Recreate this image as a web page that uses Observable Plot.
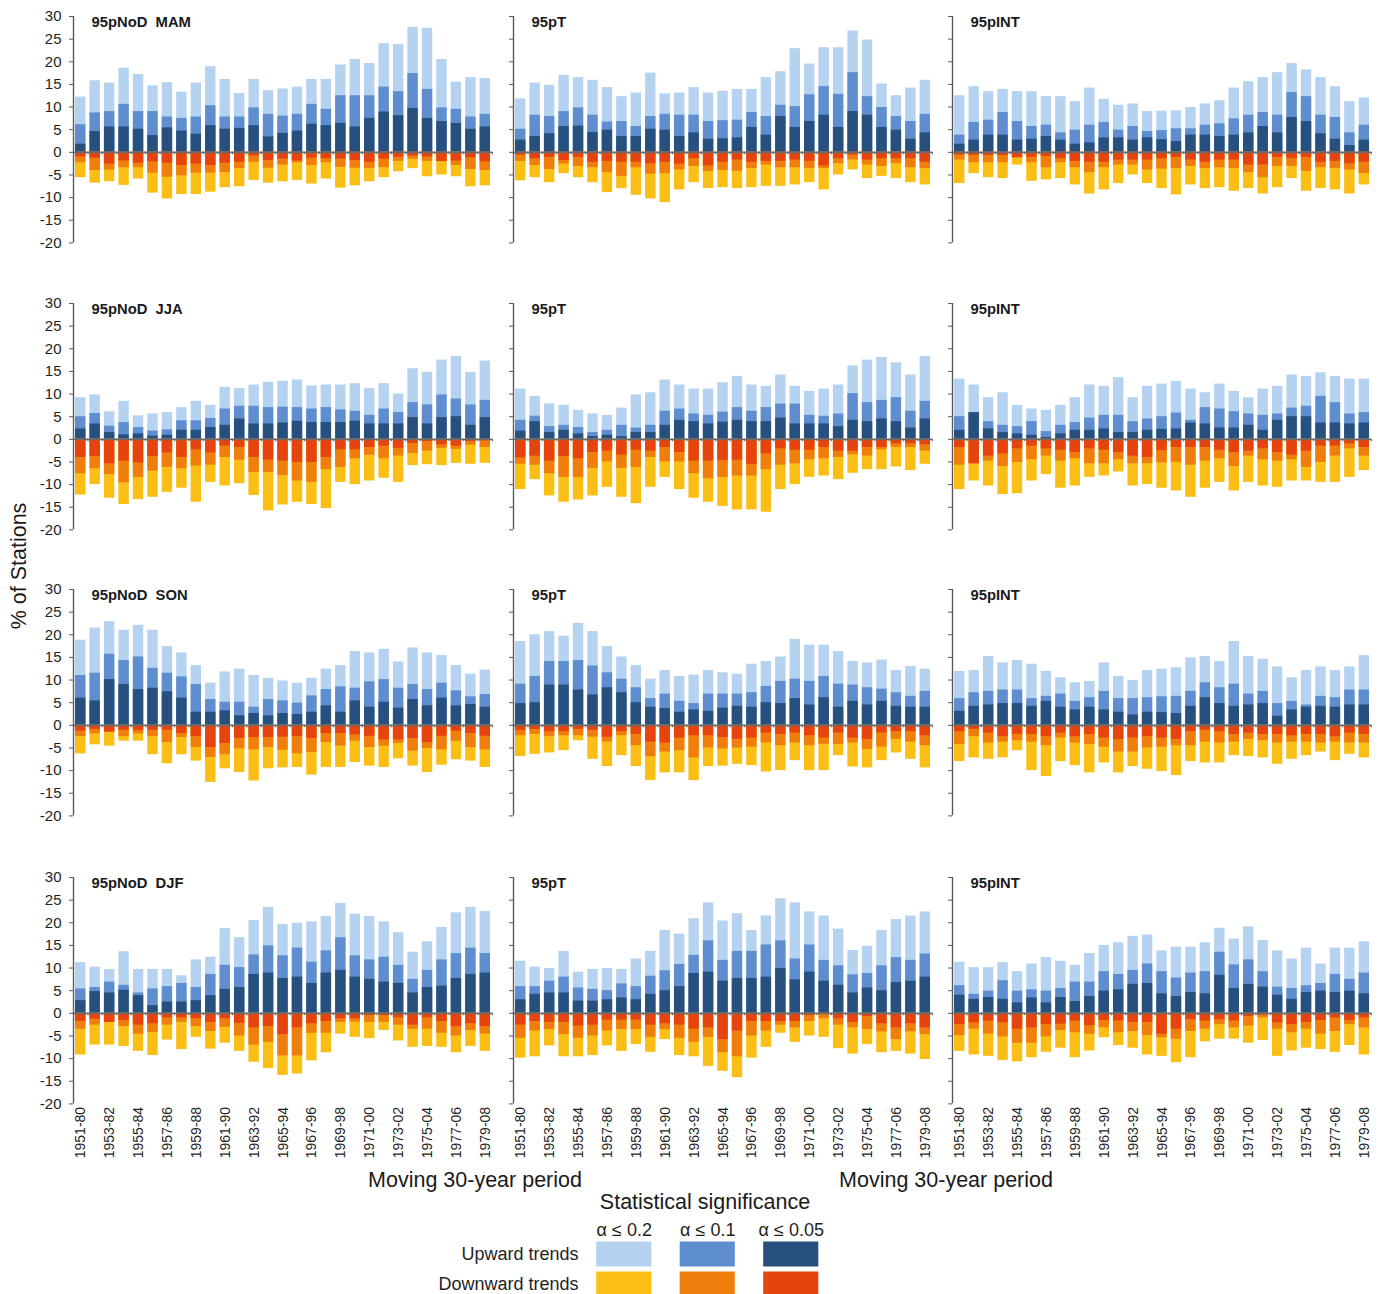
<!DOCTYPE html>
<html>
<head>
<meta charset="utf-8">
<script src="https://cdn.jsdelivr.net/npm/d3@7"></script>
<script src="https://cdn.jsdelivr.net/npm/@observablehq/plot@0.6"></script>
<style>
html, body { margin: 0; padding: 0; background: #fff; }
#root { position: relative; width: 1382px; height: 1294px; overflow: hidden; font-family: "Liberation Sans", Arial, sans-serif; background: #fff; }
#root svg { position: absolute; }
#root svg text { white-space: pre; }
.lbl { position: absolute; white-space: nowrap; color: #1a1a1a; font-size: 21.5px; line-height: 22px; }
</style>
</head>
<body>
<div id="root"></div>
<script>
// ---------- categories & labels ----------
const periods = ["1951-80","1952-81","1953-82","1954-83","1955-84","1956-85","1957-86","1958-87","1959-88","1960-89",
  "1961-90","1962-91","1963-92","1964-93","1965-94","1966-95","1967-96","1968-97","1969-98","1970-99",
  "1971-00","1972-01","1973-02","1974-03","1975-04","1976-05","1977-06","1978-07","1979-08"];
const tickPeriods = ["1951-80","1953-82","1955-84","1957-86","1959-88","1961-90","1963-92","1965-94",
  "1967-96","1969-98","1971-00","1973-02","1975-04","1977-06","1979-08"];
const yTicks = [30, 25, 20, 15, 10, 5, 0, -5, -10, -15, -20];
const sigLevels = ["α ≤ 0.2", "α ≤ 0.1", "α ≤ 0.05"];
const trendRows = ["Upward trends", "Downward trends"];
const upColors = ["#b5d3f0", "#5e8ecf", "#28507f"];
const downColors = ["#fbbe14", "#f07e0c", "#e6430f"];
const panelTitles = [
  ["95pNoD  MAM", "95pT", "95pINT"],
  ["95pNoD  JJA", "95pT", "95pINT"],
  ["95pNoD  SON", "95pT", "95pINT"],
  ["95pNoD  DJF", "95pT", "95pINT"]
];

// ---------- % of stations; up = upward trends, dn = downward trends (plotted below 0) ----------
// 20 = alpha<=0.2, 10 = alpha<=0.1, 05 = alpha<=0.05 (cumulative)
// MAM
const mamNoD_up20 = [12.2,15.8,15.3,18.6,17.2,14.7,15.4,13.3,15.3,18.9,16.1,13.0,16.1,13.6,14.0,14.4,16.1,16.1,19.3,20.5,19.6,24.0,23.8,27.6,27.4,20.5,15.5,16.5,16.3];
const mamNoD_up10 = [6.1,8.7,9.0,10.6,9.0,9.0,7.8,7.5,7.8,10.3,7.8,7.8,9.8,8.4,8.0,8.4,10.6,9.5,12.5,12.5,12.5,14.4,13.4,17.4,13.9,9.8,9.5,7.8,8.4];
const mamNoD_up05 = [1.8,4.6,5.6,5.6,5.1,3.7,5.4,4.7,4.0,5.9,5.1,5.3,5.9,3.4,4.2,4.7,6.2,5.9,6.4,5.6,7.5,8.9,8.1,9.7,7.5,6.8,6.4,5.1,5.6];
const mamNoD_dn20 = [5.6,6.8,6.5,7.3,5.9,9.0,10.3,9.3,9.3,8.8,7.8,7.6,6.2,6.8,6.5,6.2,7.0,5.9,7.9,7.4,6.5,5.6,4.3,3.6,5.4,5.0,5.4,7.6,7.4];
const mamNoD_dn10 = [2.3,4.0,3.9,3.4,3.4,4.6,5.5,5.2,4.6,4.6,4.5,3.6,2.2,3.5,2.8,2.3,2.9,2.3,3.3,3.5,3.6,3.4,2.0,1.5,2.0,2.1,2.9,3.8,4.0];
const mamNoD_dn05 = [1.0,1.3,2.6,1.9,2.4,2.1,2.4,2.9,2.6,2.9,2.4,2.2,0.8,1.8,1.5,1.9,1.3,1.4,1.5,1.8,2.2,1.5,1.1,0.8,1.0,2.0,1.9,1.2,2.1];

const mamT_up20 = [11.8,15.3,14.8,17.0,16.5,15.9,14.3,12.3,13.1,17.5,12.9,13.1,14.3,13.1,13.5,13.9,13.9,16.5,17.8,22.9,19.5,23.1,23.1,26.8,24.8,15.1,12.5,14.2,15.9];
const mamT_up10 = [5.1,8.2,7.9,9.0,9.8,8.2,6.7,6.8,5.7,7.9,8.4,8.2,8.2,6.8,7.0,7.1,8.8,7.9,10.4,10.1,12.7,14.5,12.8,17.6,12.3,9.9,7.9,6.8,8.4];
const mamT_up05 = [2.7,3.5,4.1,5.7,5.8,4.4,4.9,3.5,3.5,5.1,4.9,3.5,4.3,2.9,3.0,3.2,5.5,3.8,7.9,5.5,6.8,8.2,5.5,9.0,8.2,5.5,4.9,2.9,4.3];
const mamT_dn20 = [6.3,5.6,6.7,4.7,5.6,6.7,8.9,8.0,9.5,10.3,11.1,8.3,6.7,8.0,7.8,8.0,7.8,7.5,7.5,7.2,6.7,8.3,5.0,3.9,5.8,5.3,5.8,6.7,7.2];
const mamT_dn10 = [2.0,2.9,3.8,2.6,3.1,3.4,4.5,5.3,3.4,4.8,4.7,3.9,3.1,4.2,4.0,4.2,3.6,2.8,3.4,3.4,3.6,3.6,2.5,1.7,2.8,3.1,2.5,3.4,3.6];
const mamT_dn05 = [0.6,1.4,1.1,1.8,1.1,2.2,2.0,2.2,2.2,2.5,2.2,2.6,1.4,3.0,2.2,1.7,2.2,2.0,2.0,1.7,2.0,3.0,1.4,0.6,1.7,1.4,1.4,1.4,2.2];

const mamINT_up20 = [12.5,14.5,13.4,13.9,13.4,13.4,12.3,12.3,11.2,14.2,11.7,10.4,10.7,9.0,9.1,9.2,9.9,10.7,11.4,14.2,15.6,16.5,17.6,19.6,18.2,16.5,14.5,11.2,12.0];
const mamINT_up10 = [3.8,6.6,7.1,8.8,6.8,5.7,6.0,4.3,4.9,6.0,6.6,4.9,5.7,4.6,4.8,5.2,5.2,6.0,6.3,7.4,8.2,8.8,8.2,13.2,12.3,8.2,7.7,4.3,6.0];
const mamINT_up05 = [1.8,2.7,3.8,3.8,2.7,2.9,3.5,2.7,1.8,2.1,3.2,3.2,2.7,3.2,2.8,2.4,3.8,3.8,3.5,3.8,4.3,5.7,4.3,7.7,6.8,4.1,2.9,1.5,2.7];
const mamINT_dn20 = [6.9,4.7,5.6,5.8,2.8,6.4,6.1,5.8,7.2,9.2,8.3,6.9,5.0,6.9,8.0,9.4,7.2,8.0,7.8,8.6,8.0,9.2,7.8,5.8,8.6,8.0,8.3,9.2,7.2];
const mamINT_dn10 = [1.7,2.3,2.3,2.3,1.2,2.3,3.4,2.3,3.4,4.5,3.4,2.8,2.8,3.9,3.7,3.6,3.1,3.6,3.4,3.6,4.5,5.6,3.1,3.1,4.2,3.4,3.6,3.9,4.7];
const mamINT_dn05 = [0.6,0.7,0.7,0.7,1.2,1.1,0.9,1.4,2.0,2.2,2.2,1.7,1.7,1.7,1.4,1.1,1.7,2.2,1.7,1.7,2.8,2.8,1.1,1.4,1.1,2.2,2.0,2.5,2.2];

// JJA
const jjaNoD_up20 = [9.2,9.8,6.1,8.4,5.2,5.6,5.9,7.0,8.4,7.5,11.5,11.2,12.0,12.6,12.8,13.1,11.8,12.0,12.0,12.3,11.2,12.3,10.0,15.6,14.8,17.5,18.3,14.8,17.3];
const jjaNoD_up10 = [5.0,5.7,2.9,3.7,2.6,1.8,2.1,4.1,4.1,4.6,6.7,7.3,7.3,7.0,7.1,7.0,6.7,7.0,6.5,6.2,5.3,6.7,5.9,8.1,7.6,9.8,8.9,7.6,8.6];
const jjaNoD_up05 = [2.3,3.4,1.5,1.0,1.2,0.7,0.9,2.0,2.0,2.6,3.1,4.5,3.4,3.4,3.6,4.0,3.7,3.7,3.7,4.0,3.4,3.4,3.4,4.8,3.4,4.8,5.0,3.1,4.8];
const jjaNoD_dn20 = [12.3,10.0,13.0,14.4,13.3,12.8,11.7,10.8,13.9,9.5,10.3,9.8,12.4,15.8,14.5,13.9,14.4,15.3,9.5,10.0,9.2,8.6,9.5,5.8,5.6,5.8,5.3,5.5,5.3];
const jjaNoD_dn10 = [7.6,6.5,7.8,9.6,8.4,7.0,6.2,6.5,5.9,5.7,4.0,4.6,7.3,7.3,8.0,9.2,9.5,6.7,6.2,4.3,3.5,4.3,3.7,3.1,2.6,2.0,2.2,1.3,1.8];
const jjaNoD_dn05 = [4.0,3.8,5.4,4.8,5.2,3.8,3.0,4.0,2.3,3.0,1.5,1.8,4.0,4.6,4.8,5.1,5.1,4.0,2.3,2.3,1.8,1.5,2.0,0.9,0.5,1.2,1.5,0.5,0.3];

const jjaT_up20 = [11.1,9.5,7.8,7.5,6.4,5.6,5.3,6.9,9.8,10.3,13.1,12.0,11.1,11.1,12.5,13.9,12.0,11.7,14.2,11.7,10.6,11.1,12.0,16.2,17.5,18.1,16.9,14.2,18.3];
const jjaT_up10 = [4.2,5.1,2.8,3.1,2.6,1.5,2.0,3.1,2.5,3.1,6.2,6.7,5.6,5.3,6.0,7.0,6.2,7.0,7.8,7.8,5.3,5.1,5.6,10.1,8.1,8.6,9.2,6.2,8.4];
const jjaT_up05 = [1.8,3.9,1.5,2.0,1.2,0.6,0.9,0.6,1.5,1.5,3.1,4.2,3.9,3.4,3.8,4.2,3.9,3.9,4.7,3.4,3.4,3.4,2.8,4.2,3.9,4.5,3.9,2.5,4.5];
const jjaT_dn20 = [11.1,8.9,12.5,13.9,13.4,12.5,10.6,12.8,14.2,10.6,8.4,11.1,13.0,13.9,14.8,15.6,15.6,16.1,11.1,10.0,8.4,8.1,8.9,7.5,6.7,6.7,6.1,6.9,5.5];
const jjaT_dn10 = [5.5,5.7,7.6,8.4,8.4,6.4,5.0,6.4,6.2,4.0,5.0,5.0,7.6,8.7,8.4,8.1,8.1,6.7,5.7,5.4,4.5,4.3,4.0,3.4,3.7,2.3,1.8,1.8,2.6];
const jjaT_dn05 = [4.1,3.7,4.8,3.8,4.3,2.9,2.6,3.5,2.4,2.6,1.8,2.9,4.8,4.8,4.7,4.6,5.5,3.2,2.1,2.4,2.4,1.8,2.6,2.6,1.8,1.8,1.0,1.0,1.2];

const jjaINT_up20 = [13.3,12.0,9.2,10.3,7.5,6.7,6.4,7.5,9.2,12.0,11.7,13.6,9.2,11.7,12.2,12.8,11.1,10.3,12.2,10.6,9.2,11.1,11.7,14.2,13.9,14.7,13.9,13.3,13.3];
const jjaINT_up10 = [5.0,5.9,3.9,3.1,2.8,3.9,1.7,3.1,3.7,4.7,5.3,5.3,3.9,4.5,5.0,5.8,4.2,7.0,6.7,6.1,5.6,5.3,5.6,6.9,7.3,9.5,8.1,5.6,5.9];
const jjaINT_up05 = [2.0,5.9,2.3,1.5,1.2,0.9,0.4,1.2,2.0,2.0,2.3,1.5,1.5,2.0,2.2,2.3,3.6,3.4,2.5,2.5,3.1,2.0,4.2,5.0,5.0,3.6,3.6,3.4,3.6];
const jjaINT_dn20 = [11.1,9.2,10.3,12.2,12.0,9.2,7.8,10.8,10.3,8.4,8.1,7.2,10.3,10.0,10.8,11.4,12.8,10.8,9.5,11.4,9.5,10.3,10.6,9.2,9.2,9.5,9.5,8.4,6.9];
const jjaINT_dn10 = [5.7,5.4,4.8,6.0,5.1,4.5,3.7,4.8,4.3,5.4,5.4,4.5,5.4,5.4,5.2,5.1,5.7,4.8,4.3,6.0,3.7,4.5,4.8,4.5,6.2,5.1,3.7,2.1,3.7];
const jjaINT_dn05 = [1.8,5.4,3.7,3.2,2.1,1.5,2.1,2.4,2.9,2.1,2.4,2.9,3.7,4.0,2.5,1.8,1.8,1.8,2.4,2.9,2.6,2.1,2.9,3.5,2.6,1.5,1.5,1.0,1.8];

// SON
const sonNoD_up20 = [18.8,21.5,22.9,21.0,22.1,21.0,17.4,16.0,13.2,9.3,11.8,12.4,11.0,10.4,9.8,9.3,10.4,12.4,13.2,16.3,16.0,16.8,14.0,17.1,16.0,15.4,13.2,11.3,12.2];
const sonNoD_up10 = [11.0,11.5,15.7,14.3,15.1,12.6,11.5,10.7,9.0,5.7,5.1,5.1,4.0,5.7,5.4,4.9,6.5,7.9,8.5,8.2,9.6,10.1,8.2,9.0,7.9,9.3,7.6,6.3,6.8];
const sonNoD_up05 = [6.0,5.4,10.1,9.0,7.9,8.2,7.4,6.0,2.9,2.9,3.2,2.1,2.6,2.1,2.6,2.4,2.9,4.3,2.9,5.4,4.0,5.1,3.8,5.7,4.3,6.0,4.3,4.6,4.0];
const sonNoD_dn20 = [6.3,4.3,4.6,3.5,3.5,6.5,8.5,6.5,7.9,12.6,9.6,10.4,12.3,9.6,9.4,9.3,11.0,9.3,9.3,8.2,9.0,9.3,7.4,9.0,10.4,8.8,7.6,7.9,9.3];
const sonNoD_dn10 = [2.5,1.9,1.5,2.5,1.9,2.5,3.8,2.7,4.9,7.1,6.5,5.2,5.4,4.9,5.5,6.3,6.0,3.8,4.6,3.5,4.9,4.6,4.0,5.7,5.1,5.4,3.5,4.9,5.4];
const sonNoD_dn05 = [1.3,0.9,1.5,1.1,1.1,1.1,1.1,1.8,2.5,4.9,4.0,2.9,2.7,2.7,2.6,2.5,2.9,1.8,1.8,2.1,2.4,3.2,3.2,2.9,3.8,2.4,1.3,1.8,2.4];

const sonT_up20 = [18.5,20.0,20.7,19.7,22.5,20.7,17.4,15.1,13.2,10.2,12.1,10.8,11.1,12.1,11.6,11.3,13.5,14.1,15.1,19.0,17.7,17.7,16.3,14.1,13.8,14.4,12.1,13.0,12.4];
const sonT_up10 = [9.1,10.8,14.1,14.1,14.3,13.1,11.6,10.2,8.3,5.9,6.9,5.3,4.8,6.9,6.9,6.9,7.2,8.6,9.7,10.2,9.7,10.8,9.1,8.9,8.3,8.0,7.2,6.4,7.5];
const sonT_up05 = [4.8,5.0,8.9,8.9,7.8,6.7,8.3,7.2,5.0,4.0,3.7,2.9,3.4,3.1,3.8,4.2,4.0,5.0,4.8,5.9,4.5,6.1,4.0,5.3,4.5,5.3,4.2,4.0,4.0];
const sonT_dn20 = [6.9,6.4,6.1,5.6,3.4,7.5,9.1,6.7,9.1,12.2,10.5,10.5,12.2,9.1,9.0,8.6,8.9,10.3,10.0,7.8,10.0,10.0,6.7,9.2,9.4,7.8,6.1,7.5,9.4];
const sonT_dn10 = [2.3,2.0,2.5,2.3,2.3,2.6,3.7,2.3,4.5,6.9,5.9,5.6,7.2,5.0,5.2,5.0,4.8,3.9,4.5,3.9,4.5,4.2,4.2,3.9,5.3,4.8,3.1,3.7,4.5];
const sonT_dn05 = [1.1,0.9,1.4,1.4,0.9,1.1,2.6,1.4,2.0,3.7,3.9,2.8,2.3,2.3,2.7,3.1,2.8,1.7,2.0,1.7,2.3,2.8,1.7,2.8,3.1,1.7,1.4,1.4,2.3];

const sonINT_up20 = [11.9,12.1,15.2,13.8,14.3,13.5,11.9,10.5,9.4,9.7,13.8,10.8,9.9,12.1,12.4,12.7,14.9,15.2,14.1,18.5,15.2,14.6,12.9,10.5,12.1,12.9,12.1,12.9,15.4];
const sonINT_up10 = [5.9,7.2,7.5,7.8,7.8,5.9,6.4,6.9,5.3,6.1,7.5,5.9,5.9,6.1,6.3,6.4,7.5,9.4,8.3,9.1,6.9,7.5,4.8,5.3,4.5,6.4,6.1,7.8,7.8];
const sonINT_up05 = [3.1,4.2,4.5,4.8,4.8,4.2,5.3,4.0,3.4,4.0,3.4,2.9,2.3,2.9,2.8,2.6,4.2,6.1,4.8,4.2,4.5,4.8,2.0,3.4,4.0,4.2,4.0,4.5,4.5];
const sonINT_dn20 = [8.0,7.2,7.5,7.2,5.6,10.0,11.3,8.0,8.9,10.5,8.3,10.5,9.1,9.7,10.2,11.1,8.0,8.3,8.3,6.7,6.9,7.2,8.6,7.5,6.7,5.9,7.8,6.4,7.2];
const sonINT_dn10 = [4.2,2.5,3.9,3.7,3.4,3.7,4.5,2.8,3.9,4.2,4.8,5.9,5.9,5.0,4.8,4.5,4.5,3.7,3.9,3.7,3.1,3.4,3.9,3.7,3.7,3.9,3.7,3.9,3.9];
const sonINT_dn05 = [1.4,0.9,1.7,2.5,2.0,2.0,2.5,1.7,2.5,2.0,2.8,3.1,2.8,2.5,2.8,3.1,1.4,1.1,1.4,2.0,1.7,2.0,2.0,2.3,2.0,2.0,2.5,1.7,2.0];

// DJF
const djfNoD_up20 = [11.2,10.2,9.7,13.6,9.7,9.7,9.7,8.3,11.8,12.4,18.7,16.7,20.5,23.4,19.6,19.9,20.2,21.4,24.3,21.9,21.4,20.2,17.8,13.5,15.8,19.0,22.2,23.4,22.5];
const djfNoD_up10 = [5.4,5.7,6.9,6.2,4.5,5.4,5.9,6.6,5.7,8.6,10.6,10.1,12.9,14.9,12.7,14.4,11.3,13.8,16.7,12.7,11.8,12.4,10.6,7.5,9.5,11.8,13.2,14.4,13.2];
const djfNoD_up05 = [2.8,4.8,4.5,5.1,3.9,1.7,2.5,2.5,2.8,3.9,5.3,5.7,8.6,8.9,7.7,8.0,6.6,8.9,9.5,8.0,7.5,6.9,6.6,4.5,5.7,6.0,7.7,8.6,8.9];
const djfNoD_dn20 = [9.2,7.0,7.0,7.3,8.4,9.3,5.9,8.0,5.3,7.9,6.6,8.4,10.8,12.2,13.7,13.4,10.5,8.7,4.6,5.3,5.6,3.8,6.1,7.5,7.3,7.5,8.7,7.3,8.4];
const djfNoD_dn10 = [3.5,2.6,2.0,2.9,4.6,4.2,2.6,2.0,2.9,4.0,3.1,5.0,7.0,6.4,9.4,9.4,4.4,4.4,2.0,1.9,2.0,2.0,2.6,3.5,3.5,4.4,5.0,3.8,4.6];
const djfNoD_dn05 = [1.8,1.3,2.0,1.6,2.6,2.3,1.0,1.0,1.2,2.0,1.2,2.2,3.2,2.9,4.7,3.2,2.3,1.8,1.2,1.2,0.5,0.5,1.0,2.6,1.0,1.8,2.9,2.3,2.9];

const djfT_up20 = [11.5,10.2,9.9,13.7,9.1,9.7,9.9,9.7,12.0,13.7,18.3,17.5,20.9,24.4,20.4,22.0,18.3,21.5,25.3,24.4,22.4,21.5,18.6,13.9,14.8,18.3,20.7,21.5,22.4];
const djfT_up10 = [5.9,5.9,7.1,8.0,5.6,5.3,5.0,6.5,5.9,8.2,9.4,10.8,12.8,16.0,11.7,13.7,13.7,15.1,16.0,12.0,15.1,11.7,10.5,8.5,8.8,10.5,12.3,11.7,13.1];
const djfT_up05 = [3.0,4.2,4.5,4.5,2.7,2.7,3.0,3.4,3.0,4.2,5.0,5.9,8.8,9.1,7.1,7.7,7.7,8.0,9.9,7.4,9.1,7.1,6.2,4.5,5.6,5.0,6.8,7.1,8.0];
const djfT_dn20 = [9.9,9.6,7.2,9.6,9.6,9.3,7.2,8.4,6.9,8.6,5.8,9.3,9.6,11.7,12.8,14.2,9.9,7.5,4.4,6.4,5.0,5.3,7.8,9.0,6.9,8.7,8.4,9.0,10.2];
const djfT_dn10 = [5.5,3.9,3.6,4.7,5.5,5.0,3.9,3.6,3.6,5.3,3.6,5.5,6.4,5.3,8.7,9.6,5.0,3.9,2.6,3.2,1.8,1.2,2.6,3.2,3.6,4.1,5.8,4.1,4.7];
const djfT_dn05 = [2.6,1.8,2.0,2.0,2.8,2.6,1.5,1.5,1.5,2.6,2.3,2.6,3.5,3.2,5.8,3.9,1.8,1.8,1.8,1.8,0.5,0.3,1.2,2.0,0.7,2.3,3.2,2.3,3.2];

const djfINT_up20 = [11.3,10.1,10.1,11.2,9.2,10.9,12.3,11.5,10.6,13.2,15.0,15.6,17.0,17.3,13.8,14.6,14.6,15.6,18.8,16.4,19.1,16.1,13.8,12.0,14.4,10.9,14.4,14.4,15.8];
const djfINT_up10 = [6.1,4.2,4.9,7.2,4.9,5.2,4.9,5.5,6.9,6.9,9.2,8.6,9.5,10.9,9.2,7.8,8.9,9.2,13.5,10.7,11.8,9.2,5.8,5.5,6.1,6.6,8.6,7.5,8.9];
const djfINT_up05 = [4.0,3.1,3.5,3.1,2.3,3.4,2.3,3.5,2.6,3.7,4.9,5.2,6.4,6.6,4.3,3.7,4.6,4.3,8.4,5.5,6.4,5.8,4.0,3.1,4.6,4.9,4.6,4.9,4.3];
const djfINT_dn20 = [8.4,9.2,9.5,10.4,10.7,9.8,8.6,7.7,9.8,8.3,5.4,7.1,7.7,9.2,9.5,10.9,9.8,6.3,5.7,5.7,6.6,6.0,9.5,8.3,7.7,8.0,8.6,7.1,9.2];
const djfINT_dn10 = [4.9,3.5,4.6,5.2,6.6,6.6,5.2,3.8,4.3,4.6,3.2,4.3,4.0,4.9,5.4,5.7,4.0,3.5,2.5,3.2,2.8,1.0,3.5,4.3,3.5,4.6,4.0,2.5,3.2];
const djfINT_dn05 = [2.5,2.1,1.7,2.1,3.5,3.2,2.5,2.4,1.7,2.7,1.6,1.7,2.0,2.0,4.6,3.5,1.4,1.7,1.4,1.7,0.7,0.4,2.1,2.5,2.0,1.6,1.0,1.6,1.0];

// ---------- panel table built from the arrays ----------
const grid = [
  [[mamNoD_up20,mamNoD_up10,mamNoD_up05,mamNoD_dn20,mamNoD_dn10,mamNoD_dn05],
   [mamT_up20,mamT_up10,mamT_up05,mamT_dn20,mamT_dn10,mamT_dn05],
   [mamINT_up20,mamINT_up10,mamINT_up05,mamINT_dn20,mamINT_dn10,mamINT_dn05]],
  [[jjaNoD_up20,jjaNoD_up10,jjaNoD_up05,jjaNoD_dn20,jjaNoD_dn10,jjaNoD_dn05],
   [jjaT_up20,jjaT_up10,jjaT_up05,jjaT_dn20,jjaT_dn10,jjaT_dn05],
   [jjaINT_up20,jjaINT_up10,jjaINT_up05,jjaINT_dn20,jjaINT_dn10,jjaINT_dn05]],
  [[sonNoD_up20,sonNoD_up10,sonNoD_up05,sonNoD_dn20,sonNoD_dn10,sonNoD_dn05],
   [sonT_up20,sonT_up10,sonT_up05,sonT_dn20,sonT_dn10,sonT_dn05],
   [sonINT_up20,sonINT_up10,sonINT_up05,sonINT_dn20,sonINT_dn10,sonINT_dn05]],
  [[djfNoD_up20,djfNoD_up10,djfNoD_up05,djfNoD_dn20,djfNoD_dn10,djfNoD_dn05],
   [djfT_up20,djfT_up10,djfT_up05,djfT_dn20,djfT_dn10,djfT_dn05],
   [djfINT_up20,djfINT_up10,djfINT_up05,djfINT_dn20,djfINT_dn10,djfINT_dn05]]
];

// ---------- layout ----------
const root = document.getElementById("root");
const STEP = 14.45;
const FW = STEP * periods.length;
const FH = 226.4;
const colX = [73, 512.5, 952];
const rowY = [15.7, 302.7, 588.7, 876.7];
const svgStyle = "background: none; overflow: visible; font-family: 'Liberation Sans', Arial, sans-serif; color: #222;";

grid.forEach((rowPanels, r) => rowPanels.forEach((arrs, c) => {
  const mL = 46, mR = 6, mT = 4, mB = r === 3 ? 66 : 4;
  const rows = periods.map((p, i) => ({
    p,
    u20: arrs[0][i], u10: arrs[1][i], u05: arrs[2][i],
    d20: -arrs[3][i], d10: -arrs[4][i], d05: -arrs[5][i]
  }));
  const axisColor = "#5a5a5a";
  const marks = [
    Plot.barY(rows, {x: "p", y: "u20", fill: upColors[0]}),
    Plot.barY(rows, {x: "p", y: "u10", fill: upColors[1]}),
    Plot.barY(rows, {x: "p", y: "u05", fill: upColors[2]}),
    Plot.barY(rows, {x: "p", y: "d20", fill: downColors[0]}),
    Plot.barY(rows, {x: "p", y: "d10", fill: downColors[1]}),
    Plot.barY(rows, {x: "p", y: "d05", fill: downColors[2]}),
    Plot.ruleY([0], {stroke: "#6a6a6a", strokeWidth: 1.6}),
    Plot.ruleX(periods, {x: d => d, y1: 0, y2: -0.55, dx: STEP / 2, stroke: "#6a6a6a", strokeWidth: 1}),
    Plot.ruleX([periods[0]], {x: d => d, y1: -20, y2: 30, dx: -STEP / 2, stroke: axisColor, strokeWidth: 1.4}),
    Plot.axisY({
      ticks: yTicks, tickSize: 4, tickPadding: 8,
      tickFormat: c === 0 ? (d => String(d)) : (() => ""),
      fontSize: 15, stroke: axisColor, fill: "#1f1f1f", label: null
    }),
    Plot.text([panelTitles[r][c]], {
      text: d => d, frameAnchor: "top-left", dx: 18, dy: 0,
      fontSize: 14.8, fontWeight: "bold", fill: "#1a1a1a", textAnchor: "start", lineAnchor: "top"
    })
  ];
  if (r === 3) {
    marks.push(Plot.axisX({
      ticks: tickPeriods, tickRotate: -90, tickSize: 0, tickPadding: 3,
      fontSize: 14, fill: "#1f1f1f", label: null
    }));
  }
  const xScale = {type: "band", domain: periods, paddingInner: 0.28, paddingOuter: 0.14, round: false};
  if (r !== 3) xScale.axis = null;
  const svg = Plot.plot({
    width: mL + FW + mR,
    height: mT + FH + mB,
    marginLeft: mL, marginRight: mR, marginTop: mT, marginBottom: mB,
    x: xScale,
    y: {domain: [-20, 30]},
    marks,
    style: svgStyle
  });
  svg.style.left = (colX[c] - mL) + "px";
  svg.style.top = (rowY[r] - mT) + "px";
  root.appendChild(svg);
}));

// ---------- legend (cells) ----------
const legendCells = [];
trendRows.forEach((t, ri) => sigLevels.forEach((s, si) => {
  legendCells.push({s, t, color: (ri === 0 ? upColors : downColors)[si]});
}));
const lgL = 180, lgT = 30;
const legend = Plot.plot({
  width: lgL + 250.5 + 10,
  height: lgT + 60,
  marginLeft: lgL, marginRight: 10, marginTop: lgT, marginBottom: 0,
  x: {type: "band", domain: sigLevels, paddingInner: 0.34, paddingOuter: 0.17, round: false},
  y: {type: "band", domain: trendRows, paddingInner: 0.167, paddingOuter: 0.083, round: false},
  color: {type: "identity"},
  marks: [
    Plot.cell(legendCells, {x: "s", y: "t", fill: "color", inset: 0}),
    Plot.axisX({anchor: "top", tickSize: 0, tickPadding: 4, fontSize: 18, fill: "#1f1f1f", label: null}),
    Plot.axisY({anchor: "left", tickSize: 0, tickPadding: 4, fontSize: 18, fill: "#1f1f1f", label: null})
  ],
  style: svgStyle
});
legend.style.left = (582 - lgL) + "px";
legend.style.top = (1238.5 - lgT) + "px";
root.appendChild(legend);

// ---------- titles ----------
function addLabel(text, cx, top, rotate) {
  const d = document.createElement("div");
  d.className = "lbl";
  d.textContent = text;
  d.style.left = cx + "px";
  d.style.top = top + "px";
  d.style.transform = rotate ? "translate(-50%, -50%) rotate(-90deg)" : "translateX(-50%)";
  root.appendChild(d);
}
addLabel("% of Stations", 19, 566, true);
addLabel("Moving 30-year period", 475, 1169);
addLabel("Moving 30-year period", 946, 1169);
addLabel("Statistical significance", 705, 1191);
</script>
</body>
</html>
